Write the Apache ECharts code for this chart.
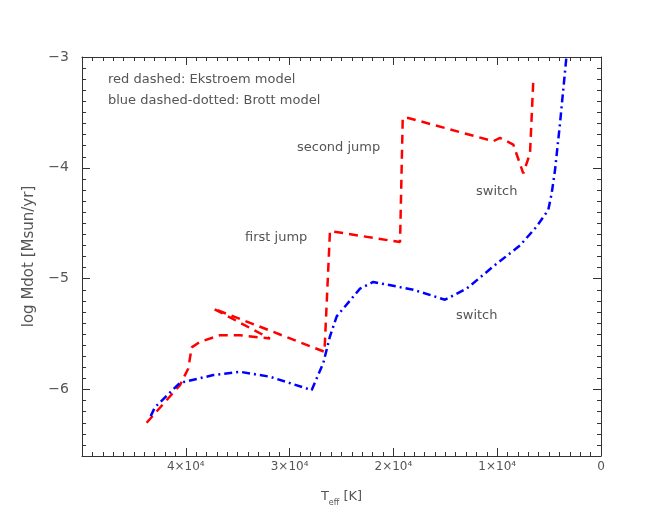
<!DOCTYPE html>
<html><head><meta charset="utf-8">
<script src="https://cdn.jsdelivr.net/npm/echarts@6/dist/echarts.min.js"></script>
<style>html,body{margin:0;padding:0;background:#fff}#c{width:653px;height:522px}</style>
</head><body><div id="c"></div>
<script>
// Ekstroem model (red dashed): [Teff, log Mdot]
const ekstroemT = [43770, 40560, 39760, 39430, 38630, 36710, 34780, 31890, 37350, 26640, 26110, 19360, 19100, 18570, 10380, 9730, 8450, 7490, 6840, 6520, 6260];
const ekstroemM = [-6.30, -5.96, -5.81, -5.62, -5.57, -5.51, -5.51, -5.54, -5.27, -5.66, -4.57, -4.67, -3.55, -3.55, -3.76, -3.73, -3.79, -4.05, -3.87, -3.21, -3.20];
// Brott model (blue dash-dotted)
const brottT = [43380, 42970, 40560, 37350, 34780, 31890, 27870, 26750, 26110, 25460, 23220, 21940, 18080, 15030, 12940, 10380, 7800, 6200, 5080, 4750, 4430, 3950, 3300];
const brottM = [-6.24, -6.16, -5.94, -5.87, -5.84, -5.885, -6.005, -5.76, -5.52, -5.34, -5.09, -5.03, -5.10, -5.19, -5.09, -4.89, -4.70, -4.53, -4.38, -4.23, -4.02, -3.60, -2.97];
const xMajorTicks = [0, 10000, 20000, 30000, 40000];
const yMajorTicks = [-6, -5, -4, -3];
const annotations = [
  {text: 'red dashed: Ekstroem model', left: 108, top: 73},
  {text: 'blue dashed-dotted: Brott model', left: 108, top: 94},
  {text: 'second jump', left: 297, top: 141},
  {text: 'first jump', left: 245, top: 231},
  {text: 'switch', left: 476, top: 185},
  {text: 'switch', left: 456, top: 309}
];

const FONT = 'DejaVu Sans';
const TXT = '#555';
const AX = '#333';
const sup = {'0':'⁰','1':'¹','2':'²','3':'³','4':'⁴','5':'⁵','6':'⁶','7':'⁷','8':'⁸','9':'⁹'};
function xFmt(v) {
  if (v === 0) return '0';
  const e = Math.floor(Math.log10(v));
  const m = Math.round(v / Math.pow(10, e));
  return m + '×10' + String(e).split('').map(c => sup[c]).join('');
}
const grid = {left: 82, right: 52, top: 57, bottom: 66};
const chart = echarts.init(document.getElementById('c'));
const baseX = {type: 'value', min: 0, max: 50000, inverse: true, splitLine: {show: false}};
const baseY = {type: 'value', min: -6.6, max: -3, splitLine: {show: false}};
function line(show) { return {show: show, onZero: false, lineStyle: {color: AX, width: 1}}; }
chart.setOption({
  animation: false,
  backgroundColor: '#fff',
  grid: grid,
  xAxis: [
    Object.assign({}, baseX, {position: 'bottom', interval: 1000,
      axisLine: line(true),
      axisTick: {show: true, inside: true, length: 4, lineStyle: {color: AX}},
      axisLabel: {show: false}}),
    Object.assign({}, baseX, {position: 'bottom', interval: 10000,
      axisLine: line(false),
      axisTick: {show: true, inside: true, length: 8, lineStyle: {color: AX}},
      axisLabel: {show: true, margin: 5, color: TXT, fontFamily: FONT, fontSize: 12,
        formatter: v => (v > 45000 ? '' : xFmt(v))},
      name: '{t|T}{s|eff}{t| [K]}', nameLocation: 'middle', nameGap: 31,
      nameTextStyle: {rich: {
        t: {fontFamily: FONT, fontSize: 13, color: TXT, lineHeight: 20, verticalAlign: 'middle'},
        s: {fontFamily: FONT, fontSize: 8, color: TXT, lineHeight: 20, verticalAlign: 'bottom'}}}}),
    Object.assign({}, baseX, {position: 'top', interval: 1000,
      axisLine: line(true),
      axisTick: {show: true, inside: true, length: 4, lineStyle: {color: AX}},
      axisLabel: {show: false}}),
    Object.assign({}, baseX, {position: 'top', interval: 10000,
      axisLine: line(false),
      axisTick: {show: true, inside: true, length: 8, lineStyle: {color: AX}},
      axisLabel: {show: false}})
  ],
  yAxis: [
    Object.assign({}, baseY, {position: 'left', interval: 0.1,
      axisLine: line(true),
      axisTick: {show: true, inside: true, length: 4, lineStyle: {color: AX}},
      axisLabel: {show: false}}),
    Object.assign({}, baseY, {position: 'left',
      axisLine: line(false),
      axisTick: {show: true, inside: true, length: 8, customValues: yMajorTicks, lineStyle: {color: AX}},
      axisLabel: {show: true, customValues: yMajorTicks, margin: 13, color: TXT, fontFamily: FONT, fontSize: 14,
        formatter: v => String(Math.round(v)).replace('-', '−')},
      name: 'log Mdot [Msun/yr]', nameLocation: 'middle', nameGap: 45, nameRotate: 90,
      nameTextStyle: {fontFamily: FONT, fontSize: 15, color: TXT}}),
    Object.assign({}, baseY, {position: 'right', interval: 0.1,
      axisLine: line(true),
      axisTick: {show: true, inside: true, length: 4, lineStyle: {color: AX}},
      axisLabel: {show: false}}),
    Object.assign({}, baseY, {position: 'right',
      axisLine: line(false),
      axisTick: {show: true, inside: true, length: 8, customValues: yMajorTicks, lineStyle: {color: AX}},
      axisLabel: {show: false}})
  ],
  series: [
    {type: 'line', xAxisIndex: 0, yAxisIndex: 0, showSymbol: false, symbol: 'none', clip: true,
      data: ekstroemT.map((t, i) => [t, ekstroemM[i]]),
      lineStyle: {color: '#ff0000', width: 2.5, type: [9, 6]}},
    {type: 'line', xAxisIndex: 0, yAxisIndex: 0, showSymbol: false, symbol: 'none', clip: true,
      data: brottT.map((t, i) => [t, brottM[i]]),
      lineStyle: {color: '#0000ff', width: 2.5, type: [8, 4, 2, 4]}}
  ],
  graphic: annotations.map(a => ({type: 'text', left: a.left, top: a.top,
    style: {text: a.text, fill: TXT, font: '13px "' + FONT + '"'}}))
});
</script></body></html>
